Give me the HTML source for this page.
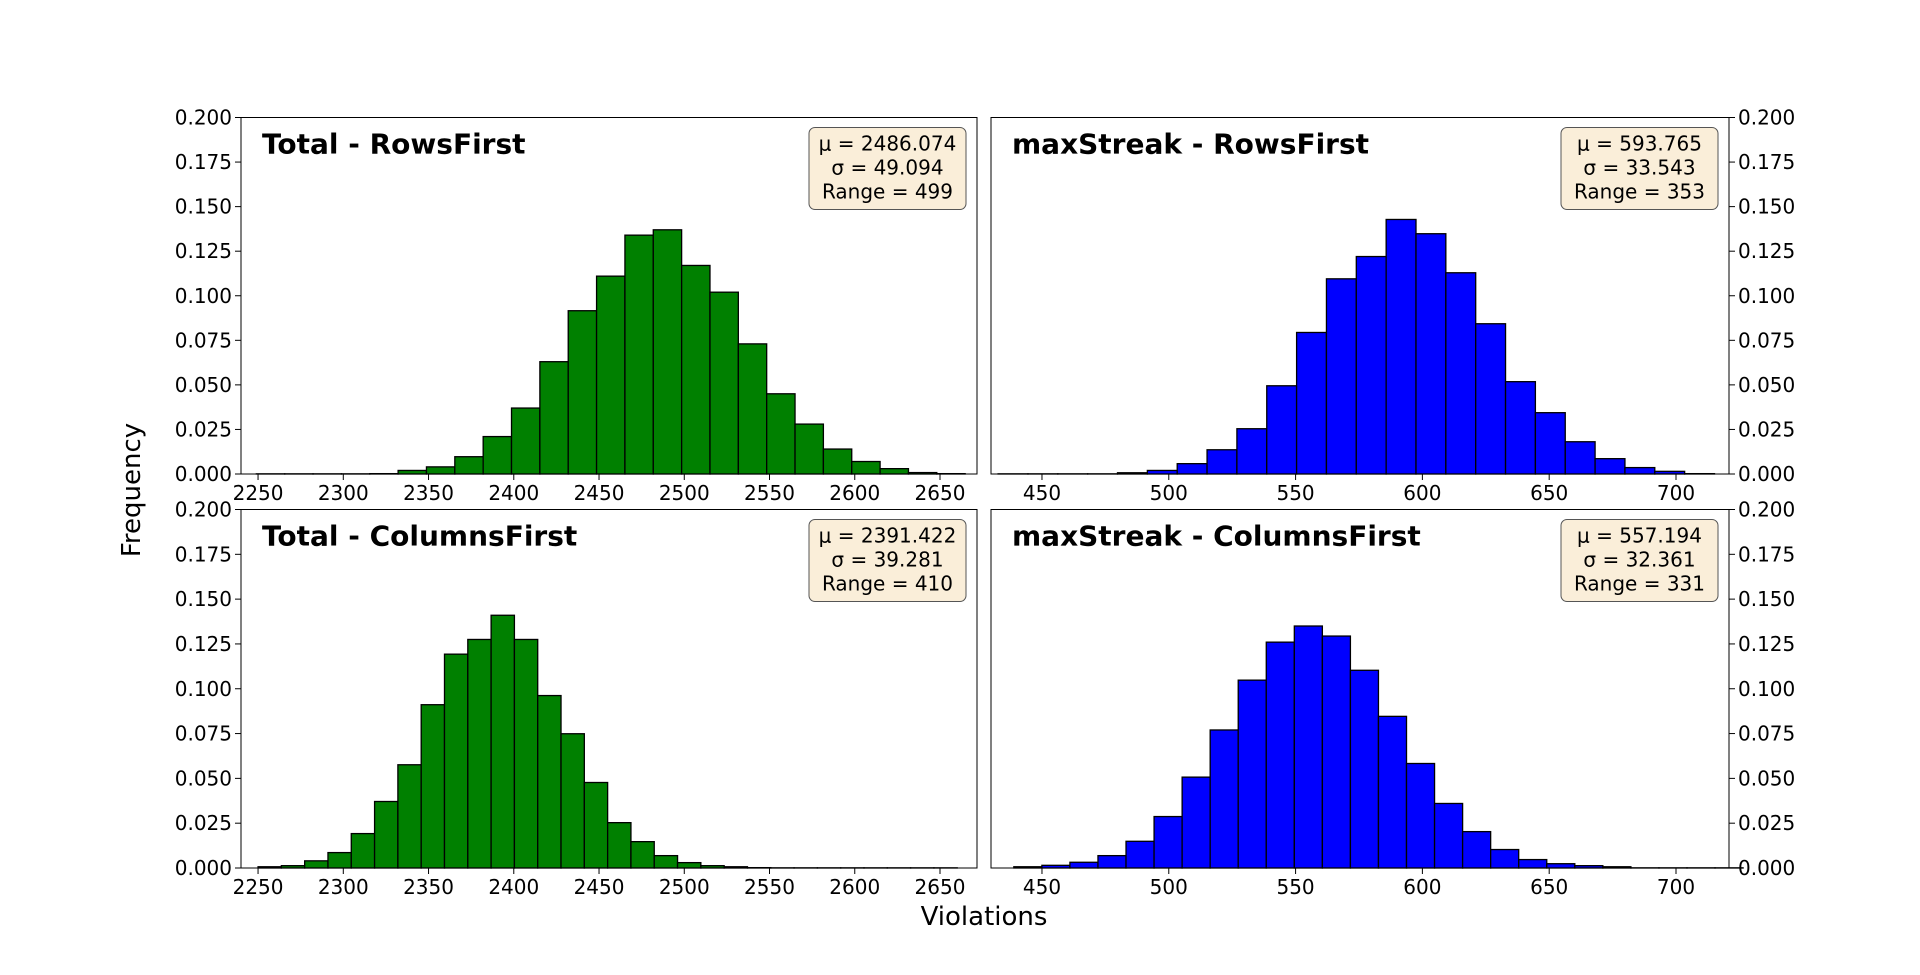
<!DOCTYPE html>
<html><head><meta charset="utf-8"><style>
html,body{margin:0;padding:0;background:#fff;}
svg{display:block;font-family:"DejaVu Sans","Liberation Sans",sans-serif;}
</style></head><body>
<svg id="chart" width="1920" height="975" viewBox="0 0 1920 975" xmlns="http://www.w3.org/2000/svg">
<rect width="1920" height="975" fill="#fff"/>
<text x="0" y="0" font-size="26" text-anchor="middle" transform="translate(140,490) rotate(-90)">Frequency</text>
<text x="984" y="925" font-size="26" text-anchor="middle">Violations</text>
</svg>
<script>
// Panel data (bin start, bin width, frequencies)
const totalRowsStart = 2249, totalRowsWidth = 16.63;
const totalRowsFreq = [0.0001,0.0001,0.0001,0.0001,0.0002,0.002,0.004,0.0097,0.021,0.037,0.063,0.0916,0.111,0.134,0.137,0.117,0.102,0.073,0.045,0.028,0.014,0.007,0.003,0.0008,0.0002];
const totalColsStart = 2250, totalColsWidth = 13.67;
const totalColsFreq = [0.0007,0.0013,0.004,0.0086,0.0192,0.0371,0.0576,0.0911,0.1193,0.1275,0.141,0.1275,0.0962,0.0749,0.0477,0.0253,0.0147,0.0069,0.003,0.0013,0.0007,0.0002,0.0001,0.0001,0.0001,0.0001,0.0001,0.0001,0.0001,0.0001];
const streakRowsStart = 432.7, streakRowsWidth = 11.77;
const streakRowsFreq = [0.0001,0.0001,0.0001,0.0001,0.0007,0.002,0.0058,0.0136,0.0254,0.0495,0.0794,0.1095,0.122,0.1428,0.1348,0.1129,0.0843,0.0518,0.0344,0.0181,0.0086,0.0036,0.0015,0.0002];
const streakColsStart = 438.9, streakColsWidth = 11.06;
const streakColsFreq = [0.0007,0.0015,0.0032,0.0069,0.0149,0.0287,0.0507,0.077,0.1048,0.126,0.135,0.1294,0.1103,0.0846,0.0583,0.036,0.0203,0.0103,0.0047,0.0024,0.0013,0.0007,0.0001,0.0001,0.0001,0.0001];
const yTicks = [0,0.025,0.05,0.075,0.1,0.125,0.15,0.175,0.2];
const yTickLabels = ["0.000","0.025","0.050","0.075","0.100","0.125","0.150","0.175","0.200"];
const totalXTicks = [2250,2300,2350,2400,2450,2500,2550,2600,2650];
const streakXTicks = [450,500,550,600,650,700];
const titles = ["Total - RowsFirst","maxStreak - RowsFirst","Total - ColumnsFirst","maxStreak - ColumnsFirst"];
const statMu = ["2486.074","593.765","2391.422","557.194"];
const statSigma = ["49.094","33.543","39.281","32.361"];
const statRange = ["499","353","410","331"];

const NS="http://www.w3.org/2000/svg";
const svg=document.getElementById('chart');
function mk(tag,attrs,parent){const e=document.createElementNS(NS,tag);for(const k in attrs)e.setAttribute(k,attrs[k]);(parent||svg).appendChild(e);return e;}

const panels=[
 {x0:241,x1:977,y0:117.5,y1:474,xmin:2240,xmax:2671.7,start:totalRowsStart,w:totalRowsWidth,freq:totalRowsFreq,ticks:totalXTicks,color:"#008000",right:false,name:"total-rowsfirst"},
 {x0:991,x1:1729,y0:117.5,y1:474,xmin:429.9,xmax:720.9,start:streakRowsStart,w:streakRowsWidth,freq:streakRowsFreq,ticks:streakXTicks,color:"#0000ff",right:true,name:"maxstreak-rowsfirst"},
 {x0:241,x1:977,y0:509.5,y1:868,xmin:2240,xmax:2671.7,start:totalColsStart,w:totalColsWidth,freq:totalColsFreq,ticks:totalXTicks,color:"#008000",right:false,name:"total-columnsfirst"},
 {x0:991,x1:1729,y0:509.5,y1:868,xmin:429.9,xmax:720.9,start:streakColsStart,w:streakColsWidth,freq:streakColsFreq,ticks:streakXTicks,color:"#0000ff",right:true,name:"maxstreak-columnsfirst"}
];

panels.forEach((p,i)=>{
  const g=mk('g',{});
  
  
  const xs=v=>p.x0+(v-p.xmin)/(p.xmax-p.xmin)*(p.x1-p.x0);
  const ys=v=>p.y1-v/0.2*(p.y1-p.y0);
  p.freq.forEach((f,k)=>{
    const a=xs(p.start+k*p.w), b=xs(p.start+(k+1)*p.w);
    const r=mk('rect',{x:a,y:ys(f),width:b-a,height:p.y1-ys(f),fill:p.color,stroke:"#000","stroke-width":1.3},g);
    
    
  });
  const fr=mk('rect',{x:p.x0,y:p.y0,width:p.x1-p.x0,height:p.y1-p.y0,fill:"none",stroke:"#000","stroke-width":1},g);
  
  
  yTicks.forEach((t,k)=>{
    const y=ys(t);
    if(p.right){
      mk('line',{x1:p.x1,x2:p.x1+6,y1:y,y2:y,stroke:"#000","stroke-width":1},g);
      const tx=mk('text',{x:p.x1+9,y:y+7,"font-size":20},g);
      tx.textContent=yTickLabels[k];
      
      
    } else {
      mk('line',{x1:p.x0-6,x2:p.x0,y1:y,y2:y,stroke:"#000","stroke-width":1},g);
      const tx=mk('text',{x:p.x0-9,y:y+7,"font-size":20,"text-anchor":"end"},g);
      tx.textContent=yTickLabels[k];
      
      
    }
  });
  p.ticks.forEach(t=>{
    const x=xs(t);
    mk('line',{x1:x,x2:x,y1:p.y1,y2:p.y1+6,stroke:"#000","stroke-width":1},g);
    const tx=mk('text',{x:x,y:p.y1+26,"font-size":20,"text-anchor":"middle"},g);
    tx.textContent=String(t);
    
    
  });
  const tt=mk('text',{x:p.x0+21,y:p.y0+36,"font-size":28,"font-weight":"bold"},g);
  tt.textContent=titles[i];
  
  
  const bx=p.x1-168, by=p.y0+10;
  const box=mk('rect',{x:bx,y:by,width:157,height:82,rx:6,fill:"#f5deb3","fill-opacity":0.5,stroke:"#555","stroke-width":1},g);
  
  
  const lines=["μ = "+statMu[i],"σ = "+statSigma[i],"Range = "+statRange[i]];
  lines.forEach((l,k)=>{
    const tx=mk('text',{x:bx+78.5,y:by+23+k*24,"font-size":20,"text-anchor":"middle"},g);
    tx.textContent=l;
    
    
  });
});
</script>
</body></html>
